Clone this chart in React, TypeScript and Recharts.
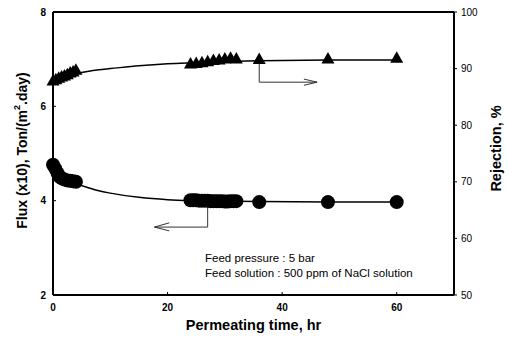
import { ComposedChart, Line, Scatter, XAxis, YAxis, ReferenceLine } from "recharts"

// measured points
const fluxPoints = [
  { t: 0, flux: 4.76 }, { t: 0.4, flux: 4.68 }, { t: 0.8, flux: 4.58 }, { t: 1.2, flux: 4.5 },
  { t: 1.6, flux: 4.47 }, { t: 2, flux: 4.45 }, { t: 2.5, flux: 4.43 }, { t: 3, flux: 4.42 },
  { t: 3.5, flux: 4.41 }, { t: 4, flux: 4.4 },
  { t: 24, flux: 4.01 }, { t: 24.5, flux: 4.01 }, { t: 25, flux: 4.01 }, { t: 25.5, flux: 4.0 },
  { t: 26, flux: 4.0 }, { t: 26.5, flux: 4.0 }, { t: 27, flux: 4.0 }, { t: 27.5, flux: 3.99 },
  { t: 28, flux: 3.99 }, { t: 28.5, flux: 3.99 }, { t: 29, flux: 3.99 }, { t: 29.5, flux: 3.99 },
  { t: 30, flux: 3.98 }, { t: 30.5, flux: 3.98 }, { t: 31, flux: 3.99 }, { t: 31.5, flux: 3.99 },
  { t: 32, flux: 3.99 },
  { t: 36, flux: 3.97 }, { t: 48, flux: 3.97 }, { t: 60, flux: 3.97 },
]

const rejectionPoints = [
  { t: 0, rej: 87.9 }, { t: 0.5, rej: 88.1 }, { t: 1, rej: 88.4 }, { t: 1.5, rej: 88.6 },
  { t: 2, rej: 88.8 }, { t: 2.5, rej: 89.0 }, { t: 3, rej: 89.3 }, { t: 3.5, rej: 89.5 },
  { t: 4, rej: 89.8 },
  { t: 24, rej: 90.9 }, { t: 25, rej: 91.0 }, { t: 26, rej: 91.1 }, { t: 27, rej: 91.3 },
  { t: 28, rej: 91.5 }, { t: 29, rej: 91.6 }, { t: 30, rej: 91.8 }, { t: 31, rej: 91.9 },
  { t: 32, rej: 91.8 },
  { t: 36, rej: 91.7 }, { t: 48, rej: 91.8 }, { t: 60, rej: 91.9 },
]

// fitted curves
const fluxCurve = [
  { t: 0, flux: 4.75 }, { t: 1, flux: 4.6 }, { t: 2, flux: 4.5 }, { t: 3, flux: 4.42 },
  { t: 4, flux: 4.36 }, { t: 6, flux: 4.28 }, { t: 8, flux: 4.21 }, { t: 10, flux: 4.16 },
  { t: 15, flux: 4.07 }, { t: 20, flux: 4.02 }, { t: 25, flux: 4.0 }, { t: 30, flux: 3.99 },
  { t: 36, flux: 3.98 }, { t: 48, flux: 3.97 }, { t: 60, flux: 3.97 },
]

const rejectionCurve = [
  { t: 0, rej: 87.7 }, { t: 1, rej: 88.1 }, { t: 2, rej: 88.5 }, { t: 3, rej: 88.8 },
  { t: 4, rej: 89.1 }, { t: 6, rej: 89.5 }, { t: 8, rej: 89.8 }, { t: 10, rej: 90.0 },
  { t: 15, rej: 90.5 }, { t: 20, rej: 90.85 }, { t: 25, rej: 91.05 }, { t: 30, rej: 91.25 },
  { t: 36, rej: 91.4 }, { t: 48, rej: 91.5 }, { t: 60, rej: 91.5 },
]

const xTicks = [0, 20, 40, 60]
const fluxTicks = [2, 4, 6, 8]
const rejTicks = [50, 60, 70, 80, 90, 100]

const FONT = "'Liberation Sans', Arial, sans-serif"
const BOLD_TICK = { fontSize: 10, fontWeight: 700, fill: "#000", fontFamily: FONT } as const
const TICK = { fontSize: 10, fill: "#000", fontFamily: FONT } as const
const TITLE = { fontSize: 14.5, fontWeight: 700, fontFamily: FONT, fill: "#000" }

const Circle = (p: any) => <circle cx={p.cx} cy={p.cy} r={7} fill="#000" />
const Triangle = (p: any) => (
  <polygon points={`${p.cx},${p.cy - 6.5} ${p.cx + 6.5},${p.cy + 5} ${p.cx - 6.5},${p.cy + 5}`} fill="#000" />
)

const FluxLabel = (props: any) => {
  const vb = props.viewBox
  const x = 22
  const cy = vb.y + vb.height / 2 - 3
  return (
    <text
      x={x}
      y={cy}
      transform={`rotate(-90 ${x} ${cy})`}
      textAnchor="middle"
      dominantBaseline="central"
      style={{ ...TITLE, fontSize: 14 }}
    >
      Flux (x10), Ton/(m
      <tspan dy={-5} fontSize={9}>2</tspan>
      <tspan dy={5}>.day)</tspan>
    </text>
  )
}

const RejLabel = (props: any) => {
  const vb = props.viewBox
  const x = 496
  const cy = vb.y + vb.height / 2 - 5
  return (
    <text
      x={x}
      y={cy}
      transform={`rotate(-90 ${x} ${cy})`}
      textAnchor="middle"
      dominantBaseline="central"
      style={TITLE}
    >
      Rejection, %
    </text>
  )
}

const ARROW = { stroke: "#333", strokeWidth: 1 }

export default function App() {
  return (
    <div style={{ position: "relative", width: 508, height: 339 }}>
      <style>{`body{margin:0}`}</style>
      <ComposedChart width={508} height={339} margin={{ top: 12, right: 0, left: 0, bottom: 0 }}>
        <XAxis
          type="number"
          dataKey="t"
          domain={[0, 70]}
          ticks={xTicks}
          height={44}
          stroke="#000"
          axisLine={{ stroke: "#000", strokeWidth: 2 }}
          tickLine={{ stroke: "#000" }}
          tickSize={-3}
          tickMargin={12}
          tick={BOLD_TICK}
          label={{
            value: "Permeating time, hr",
            position: "insideBottom",
            offset: 9,
            style: TITLE,
          }}
        />
        <YAxis
          yAxisId="flux"
          type="number"
          domain={[2, 8]}
          ticks={fluxTicks}
          width={53}
          axisLine={{ stroke: "#000", strokeWidth: 2 }}
          tickLine={{ stroke: "#000" }}
          tickSize={-3}
          tickMargin={10}
          tick={BOLD_TICK}
          label={{ content: FluxLabel }}
        />
        <YAxis
          yAxisId="rej"
          orientation="right"
          type="number"
          domain={[50, 100]}
          ticks={rejTicks}
          width={54}
          axisLine={{ stroke: "#000", strokeWidth: 2 }}
          tickLine={{ stroke: "#000" }}
          tickSize={3}
          tickMargin={4}
          tick={TICK}
          label={{ content: RejLabel }}
        />
        <ReferenceLine yAxisId="flux" y={8} stroke="#000" strokeWidth={2} />

        {/* arrow pointing to left axis */}
        <ReferenceLine yAxisId="flux" segment={[{ x: 27, y: 4.0 }, { x: 27, y: 3.44 }]} {...ARROW} />
        <ReferenceLine yAxisId="flux" segment={[{ x: 27, y: 3.44 }, { x: 17.7, y: 3.44 }]} {...ARROW} />
        <ReferenceLine yAxisId="flux" segment={[{ x: 17.7, y: 3.44 }, { x: 20.3, y: 3.53 }]} {...ARROW} />
        <ReferenceLine yAxisId="flux" segment={[{ x: 17.7, y: 3.44 }, { x: 20.3, y: 3.36 }]} {...ARROW} />
        {/* arrow pointing to right axis */}
        <ReferenceLine yAxisId="rej" segment={[{ x: 36, y: 91.5 }, { x: 36, y: 87.6 }]} {...ARROW} />
        <ReferenceLine yAxisId="rej" segment={[{ x: 36, y: 87.6 }, { x: 46.1, y: 87.6 }]} {...ARROW} />
        <ReferenceLine yAxisId="rej" segment={[{ x: 46.1, y: 87.6 }, { x: 43.8, y: 88.15 }]} {...ARROW} />
        <ReferenceLine yAxisId="rej" segment={[{ x: 46.1, y: 87.6 }, { x: 43.8, y: 87.05 }]} {...ARROW} />

        <Line
          yAxisId="flux"
          data={fluxCurve}
          dataKey="flux"
          type="monotone"
          stroke="#000"
          strokeWidth={1.5}
          dot={false}
          isAnimationActive={false}
        />
        <Line
          yAxisId="rej"
          data={rejectionCurve}
          dataKey="rej"
          type="monotone"
          stroke="#000"
          strokeWidth={1.5}
          dot={false}
          isAnimationActive={false}
        />
        <Scatter yAxisId="flux" data={fluxPoints} dataKey="flux" shape={Circle} isAnimationActive={false} />
        <Scatter yAxisId="rej" data={rejectionPoints} dataKey="rej" shape={Triangle} isAnimationActive={false} />
      </ComposedChart>
      <div
        style={{
          position: "absolute",
          left: 205,
          top: 251,
          fontFamily: FONT,
          fontSize: 11.5,
          lineHeight: "15px",
          color: "#000",
          whiteSpace: "nowrap",
        }}
      >
        <div>Feed pressure : 5 bar</div>
        <div>Feed solution : 500 ppm of NaCl solution</div>
      </div>
    </div>
  )
}
